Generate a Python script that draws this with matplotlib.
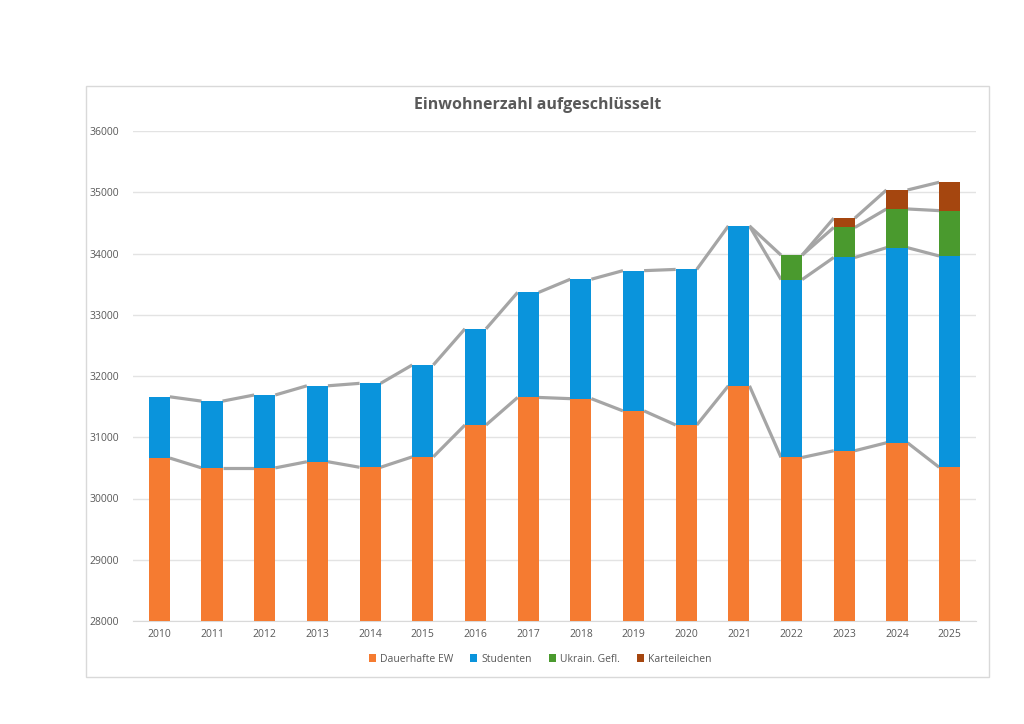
import matplotlib.pyplot as plt
import numpy as np
from matplotlib.patches import Rectangle

# data
years = ['2010', '2011', '2012', '2013', '2014', '2015', '2016', '2017',
         '2018', '2019', '2020', '2021', '2022', '2023', '2024', '2025']
dauerhaft = [30660, 30500, 30500, 30600, 30510, 30680, 31200, 31650,
             31630, 31430, 31200, 31840, 30670, 30780, 30910, 30510]
studenten = [1000, 1090, 1190, 1240, 1370, 1500, 1570, 1715,
             1950, 2290, 2540, 2610, 2905, 3155, 3185, 3450]
ukraine = [0, 0, 0, 0, 0, 0, 0, 0, 0, 0, 0, 0, 398, 490, 632, 740]
karteileichen = [0, 0, 0, 0, 0, 0, 0, 0, 0, 0, 0, 0, 0, 152, 310, 463]

names = ['Dauerhafte EW', 'Studenten', 'Ukrain. Gefl.', 'Karteileichen']
colors = ['#F57B31', '#0A94DC', '#4A9A2E', '#A5460F']
series = [dauerhaft, studenten, ukraine, karteileichen]

txt = '#595959'
plt.rcParams['font.family'] = ['Open Sans', 'DejaVu Sans']

fig = plt.figure(figsize=(10.24, 7.24), dpi=100)
# chart frame like the excel chart area
fig.patches.append(Rectangle((86 / 1024, 1 - 677 / 724), (989 - 86) / 1024, (677 - 86) / 724,
                             transform=fig.transFigure, fill=False,
                             edgecolor='#D9D9D9', linewidth=1.0))
ax = fig.add_axes([133 / 1024, 1 - 621 / 724, (976 - 133) / 1024, (621 - 131) / 724])

x = np.arange(len(years))
w = 0.4
bottom = np.zeros(len(years))
levels = []
for vals, name, c in zip(series, names, colors):
    vals = np.array(vals, dtype=float)
    ax.bar(x, vals, w, bottom=bottom, color=c, label=name, zorder=3)
    bottom = bottom + vals
    levels.append(bottom.copy())

# series lines between bars (skip segments already drawn by a lower level)
drawn = set()
for lev in levels:
    for i in range(len(years) - 1):
        key = (i, lev[i], lev[i + 1])
        if key in drawn:
            continue
        drawn.add(key)
        ax.plot([x[i] + w / 2, x[i + 1] - w / 2], [lev[i], lev[i + 1]],
                color='#A5A5A5', linewidth=2.3, zorder=2, solid_capstyle='butt')

ax.set_ylim(28000, 36000)
ax.set_xlim(-0.5, len(years) - 0.5)
ax.set_yticks(np.arange(28000, 36001, 1000))
ax.set_xticks(x)
ax.set_xticklabels(years)
ax.grid(axis='y', color='#E3E3E3', linewidth=1.0, zorder=0)
ax.set_axisbelow(True)
for s in ['top', 'right', 'left']:
    ax.spines[s].set_visible(False)
ax.spines['bottom'].set_color('#D9D9D9')
ax.tick_params(length=0, colors=txt, labelsize=7.5)
ax.tick_params(axis='y', pad=10)
ax.tick_params(axis='x', pad=6)

fig.text(537.5 / 1024, 1 - 105 / 724, 'Einwohnerzahl aufgeschlüsselt', ha='center', va='center',
         fontsize=11.5, fontweight='bold', color=txt)

ax.legend(loc='center', bbox_to_anchor=(0.483, -0.078), ncol=4, frameon=False,
          fontsize=7.5, labelcolor=txt, handlelength=0.7, handleheight=0.7,
          handletextpad=0.4, columnspacing=1.6)

fig.savefig('out.png', dpi=100)
